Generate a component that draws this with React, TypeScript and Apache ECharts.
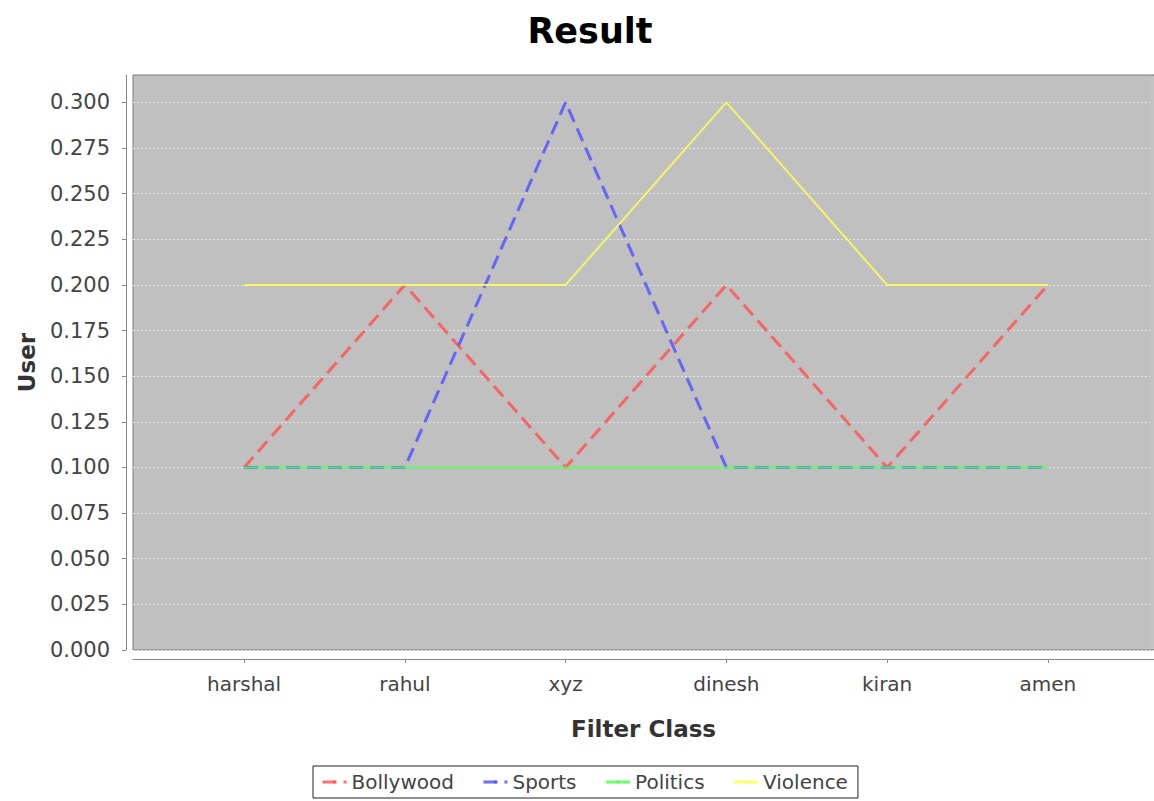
import React, { useEffect, useRef } from "react";
import * as echarts from "echarts";

const categories = ["harshal", "rahul", "xyz", "dinesh", "kiran", "amen"];
const bollywood = [0.1, 0.2, 0.1, 0.2, 0.1, 0.2];
const sports = [0.1, 0.1, 0.3, 0.1, 0.1, 0.1];
const politics = [0.1, 0.1, 0.1, 0.1, 0.1, 0.1];
const violence = [0.2, 0.2, 0.2, 0.3, 0.2, 0.2];
const yTicks = [0, 0.025, 0.05, 0.075, 0.1, 0.125, 0.15, 0.175, 0.2, 0.225, 0.25, 0.275, 0.3];
const catIdx = categories.map((_, i) => i);

const FONT = "DejaVu Sans";

export default function App() {
  const ref = useRef<HTMLDivElement>(null);
  useEffect(() => {
    if (!ref.current) return;
    const chart = echarts.init(ref.current, null, { renderer: "svg" });
    const toPts = (arr: number[]) => arr.map((v, i) => [i, v]);
    const mk = (name: string, data: number[], color: string, width: number, dashed: boolean) => ({
      name,
      type: "line",
      data: toPts(data),
      symbol: "none",
      showSymbol: false,
      itemStyle: { color },
      lineStyle: { color, width, type: dashed ? [14, 7] : "solid", opacity: 0.85 },
      emphasis: { disabled: true },
    });
    chart.setOption({
      animation: false,
      backgroundColor: "#ffffff",
      title: {
        text: "Result",
        left: 585,
        textAlign: "center",
        top: 8,
        textStyle: { fontFamily: FONT, fontWeight: "bold", fontSize: 35, color: "#000" },
      },
      grid: {
        left: 133,
        right: 0,
        top: 75,
        bottom: 151,
        show: true,
        backgroundColor: "#c0c0c0",
        borderColor: "#7a7a7a",
        borderWidth: 1,
      },
      graphic: [
        {
          type: "rect",
          z: 50,
          shape: { x: 1150, y: 76, width: 6, height: 573 },
          style: { fill: "#c4c4c4" },
        },
      ],
      legend: {
        left: 313,
        top: 766,
        orient: "horizontal",
        padding: [6, 10, 6, 8],
        itemGap: 28,
        itemWidth: 24,
        itemHeight: 4,
        borderColor: "#222",
        borderWidth: 1,
        lineStyle: { width: 3 },
        textStyle: { fontFamily: FONT, fontSize: 20, color: "#444" },
        data: ["Bollywood", "Sports", "Politics", "Violence"],
      },
      xAxis: {
        type: "value",
        min: -0.691,
        max: 5.66,
        offset: 9,
        name: "Filter Class",
        nameLocation: "middle",
        nameGap: 58,
        nameTextStyle: { fontFamily: FONT, fontWeight: "bold", fontSize: 23, color: "#333" },
        axisLine: { show: true, onZero: false, lineStyle: { color: "#888", width: 1 } },
        axisTick: { show: true, length: 4, lineStyle: { color: "#888" }, customValues: catIdx },
        axisLabel: {
          customValues: catIdx,
          formatter: (v: number) => categories[Math.round(v)] ?? "",
          fontFamily: FONT,
          fontSize: 20,
          color: "#444",
          margin: 15,
        },
        splitLine: { show: false },
      },
      yAxis: {
        type: "value",
        min: 0,
        max: 0.315,
        interval: 0.025,
        offset: 7,
        name: "User",
        nameLocation: "middle",
        nameGap: 88,
        nameRotate: 90,
        nameTextStyle: { fontFamily: FONT, fontWeight: "bold", fontSize: 23, color: "#333" },
        axisLine: { show: true, onZero: false, lineStyle: { color: "#888", width: 1 } },
        axisTick: { show: true, length: 4, lineStyle: { color: "#888" }, customValues: yTicks },
        axisLabel: {
          customValues: yTicks,
          formatter: (v: number) => v.toFixed(3),
          fontFamily: FONT,
          fontSize: 21,
          color: "#444",
          margin: 16,
        },
        splitLine: { show: true, lineStyle: { color: "#e6e6e6", width: 1, type: [2, 2] } },
      },
      series: [
        mk("Bollywood", bollywood, "#ff5555", 3, true),
        mk("Sports", sports, "#5555ff", 3, true),
        mk("Politics", politics, "#55ff55", 2, false),
        mk("Violence", violence, "#ffff55", 2, false),
      ],
    });
    return () => chart.dispose();
  }, []);
  return (
    <div
      ref={ref}
      style={{ position: "fixed", left: 0, top: 0, width: 1154, height: 801, background: "#fff" }}
    />
  );
}
